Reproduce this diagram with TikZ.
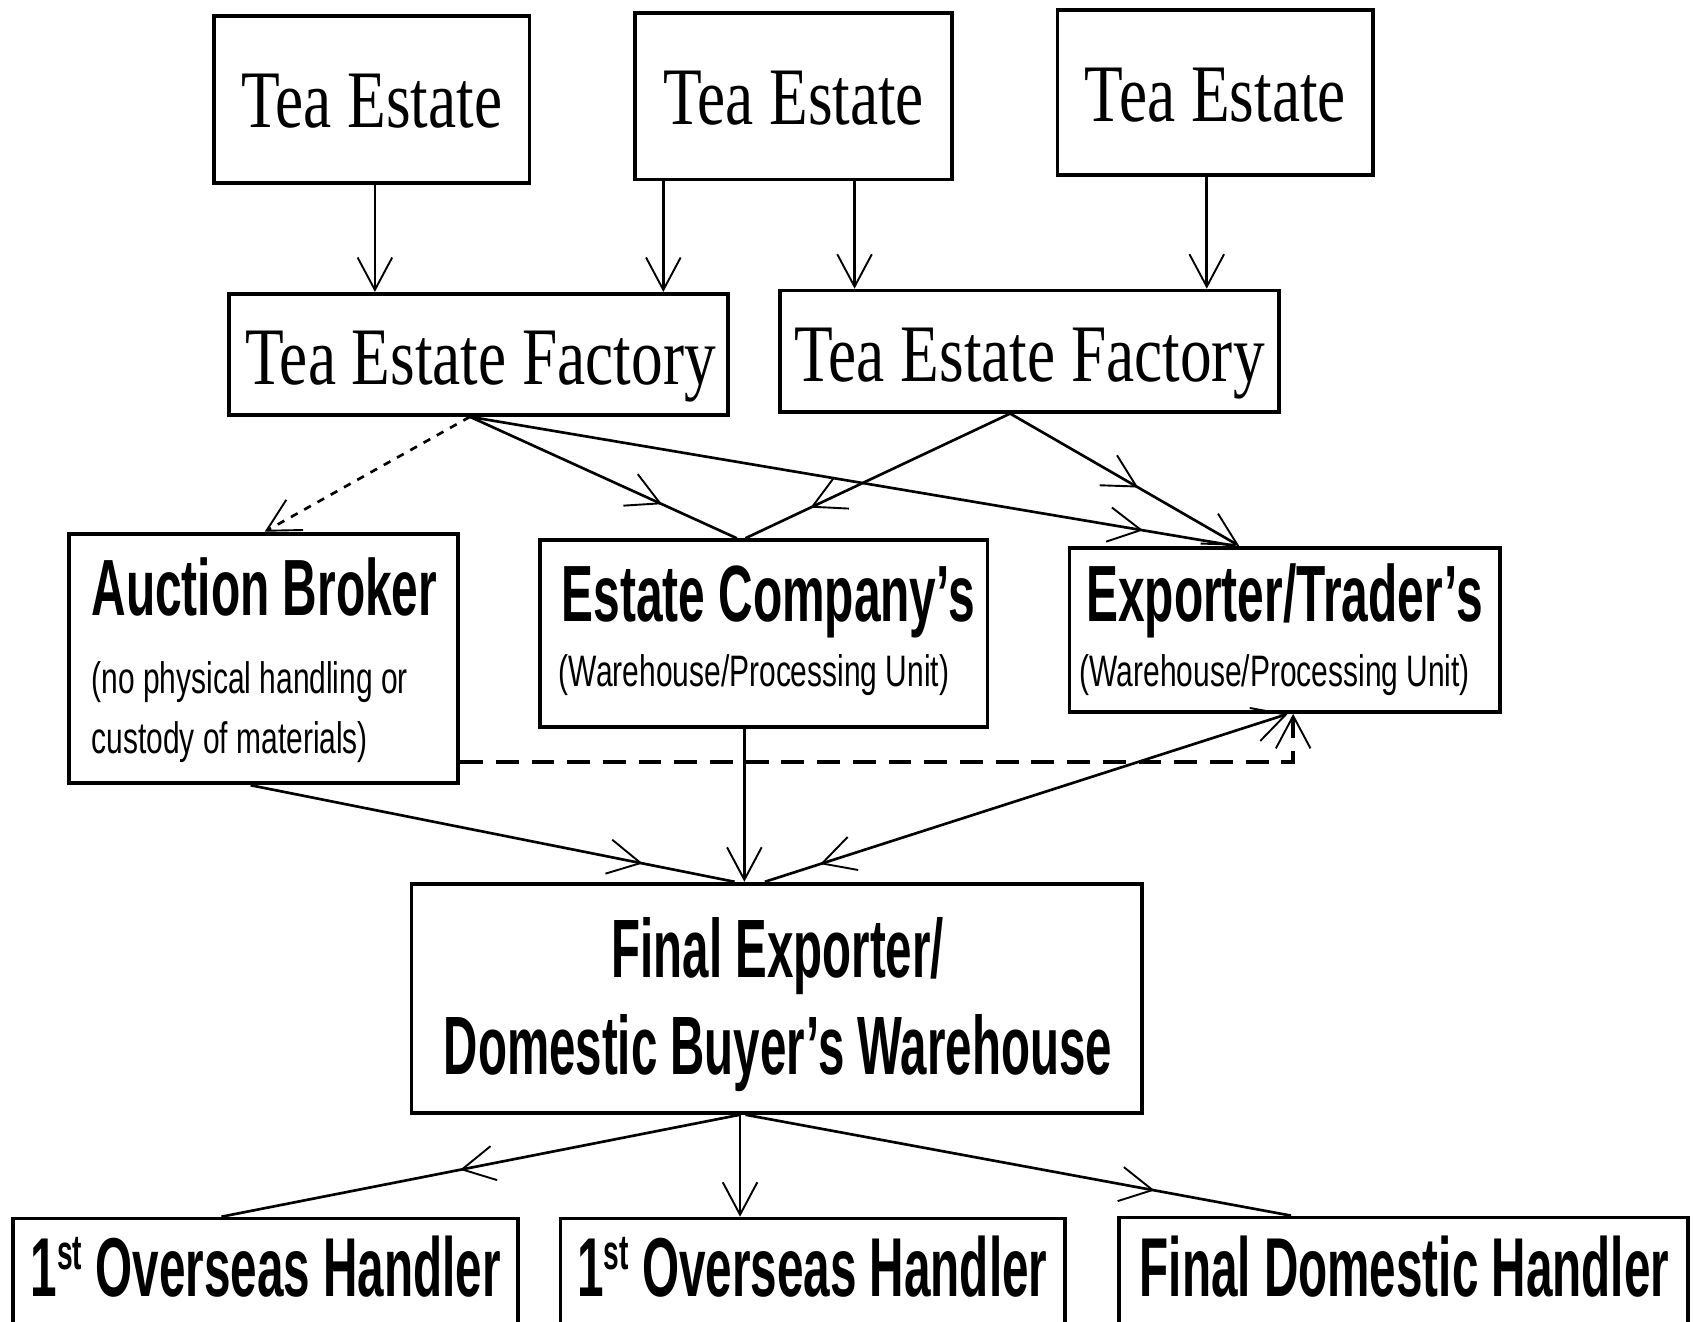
\documentclass[tikz,border=0pt]{standalone}
\usepackage{fontspec}
\usetikzlibrary{arrows.meta,decorations.markings}
\newfontfamily\teaserif[FakeStretch=0.775]{Liberation Serif}
\newfontfamily\teasans[FakeStretch=0.60]{Liberation Sans}
\newfontfamily\teafe[FakeStretch=0.573]{Liberation Sans}
\newfontfamily\teahand[FakeStretch=0.57]{Liberation Sans}
\newfontfamily\teasmall[FakeStretch=0.68]{Liberation Sans}
\newcommand{\stsup}{\raisebox{7pt}{\fontsize{13pt}{13pt}\selectfont st}}
\begin{document}
\begin{tikzpicture}[x=0.01cm,y=-0.01cm,
  box/.style={draw, line width=1pt, inner sep=0pt},
  conn/.style={line width=0.7pt},
  >={Straight Barb[length=0.3cm,width=0.32cm,line width=0.5pt]},
  midarrow/.style={postaction={decorate,decoration={markings,mark=at position #1 with {\arrow{>}}}}},
  revarrow/.style={postaction={decorate,decoration={markings,mark=at position #1 with {\arrow{<}}}}},
  serif/.style={font=\teaserif\fontsize{21.5pt}{24pt}\selectfont, inner sep=0pt},
  bigsans/.style={font=\teasans\bfseries\fontsize{21pt}{24pt}\selectfont, inner sep=0pt},
  felab/.style={font=\teafe\bfseries\fontsize{21.8pt}{24pt}\selectfont, inner sep=0pt},
  handler/.style={font=\teahand\bfseries\fontsize{22pt}{24pt}\selectfont, inner sep=0pt},
  smallsans/.style={font=\teasmall\fontsize{11.6pt}{13pt}\selectfont, inner sep=0pt}
]
\useasboundingbox (0,0) rectangle (1568,1223);
\clip (0,0) rectangle (1568,1223);

% Tea estates
\node[box, minimum width=2.92cm, minimum height=1.54cm] (te1) at (344,92) {};
\node[serif, anchor=base] (te1t) at (344,118) {Tea Estate};
\node[box, minimum width=2.93cm, minimum height=1.54cm] (te2) at (734.5,89) {};
\node[serif, anchor=base] (te2t) at (734.5,115) {Tea Estate};
\node[box, minimum width=2.92cm, minimum height=1.53cm] (te3) at (1125,85.5) {};
\node[serif, anchor=base] (te3t) at (1125,112) {Tea Estate};

% Factories
\node[box, minimum width=4.62cm, minimum height=1.12cm] (tef1) at (443,328) {};
\node[serif, anchor=base] (tef1t) at (445,356) {Tea Estate Factory};
\node[box, minimum width=4.62cm, minimum height=1.12cm] (tef2) at (953,325) {};
\node[serif, anchor=base] (tef2t) at (953,353) {Tea Estate Factory};

% Middle boxes
\node[box, minimum width=3.60cm, minimum height=2.31cm] (ab) at (244,609.5) {};
\node[bigsans, anchor=base west] (abt) at (84,570) {Auction Broker};
\node[smallsans, anchor=base west] (abs1) at (84,642) {(no physical handling or};
\node[smallsans, anchor=base west] (abs2) at (84,697) {custody of materials)};

\node[box, minimum width=4.14cm, minimum height=1.73cm] (ec) at (707,586.5) {};
\node[bigsans, anchor=base] (ect) at (711,575) {Estate Company’s};
\node[smallsans, anchor=base] (ecs) at (698,635) {(Warehouse/Processing Unit)};

\node[box, minimum width=3.98cm, minimum height=1.52cm] (et) at (1189,583) {};
\node[bigsans, anchor=base] (ett) at (1189,575) {Exporter/Trader’s};
\node[smallsans, anchor=base] (ets) at (1180,635) {(Warehouse/Processing Unit)};

% Final exporter
\node[box, minimum width=6.76cm, minimum height=2.12cm] (fe) at (719,924) {};
\node[felab, anchor=base] (fet1) at (720,905) {Final Exporter/};
\node[felab, anchor=base] (fet2) at (720,995) {Domestic Buyer’s Warehouse};

% Bottom handlers
\node[box, minimum width=4.67cm, minimum height=2cm] (o1) at (245.5,1228) {};
\node[handler, anchor=base] (o1t) at (246,1200) {1\stsup\ Overseas Handler};
\node[box, minimum width=4.67cm, minimum height=2cm] (o2) at (752.5,1228) {};
\node[handler, anchor=base] (o2t) at (752,1200) {1\stsup\ Overseas Handler};
\node[box, minimum width=5.26cm, minimum height=2cm] (fd) at (1299,1227) {};
\node[handler, anchor=base] (fdt) at (1300,1200) {Final Domestic Handler};

% Estate -> factory
\draw[conn,->] (te1.south -| 347,0) -- (tef1.north -| 347,0);
\draw[conn,->] (te2.south -| 614,0) -- (tef1.north -| 614,0);
\draw[conn,->] (te2.south -| 791,0) -- (tef2.north -| 791,0);
\draw[conn,->] (te3.south -| 1117,0) -- (tef2.north -| 1117,0);

% Factory -> middle
\draw[conn, dash pattern=on 2pt off 2pt, ->] (tef1.south -| 435,0) -- (ab.north -| 245,0);
\draw[conn, midarrow=0.72] (tef1.south -| 435,0) -- (ec.north -| 682,0);
\draw[conn, midarrow=0.88] (tef1.south -| 435,0) -- (et.north -| 1143,0);
\draw[conn, midarrow=0.755] (tef2.south -| 935,0) -- (ec.north -| 690,0);
\draw[conn, midarrow=0.56, ->] (tef2.south -| 935,0) -- (et.north -| 1147,0);

% Auction broker dashed to exporter
\draw[line width=1pt, dash pattern=on 6pt off 3.4pt, ->] (ab.east |- 0,705) -| (et.south -| 1197,0);

% Middle -> final exporter
\draw[conn, midarrow=0.81] (ab.south -| 232,0) -- (fe.north -| 680,0);
\draw[conn, ->] (ec.south -| 689,0) -- (fe.north -| 689,0);
\draw[conn, ->, revarrow=0.17] (fe.north -| 708,0) -- (et.south -| 1192,0);

% Final exporter -> handlers
\draw[conn, midarrow=0.54] (fe.south -| 685,0) -- (o1.north -| 205,0);
\draw[conn, ->] (fe.south -| 685,0) -- (o2.north -| 685,0);
\draw[conn, midarrow=0.75] (fe.south -| 690,0) -- (fd.north -| 1195,0);
\end{tikzpicture}
\end{document}
